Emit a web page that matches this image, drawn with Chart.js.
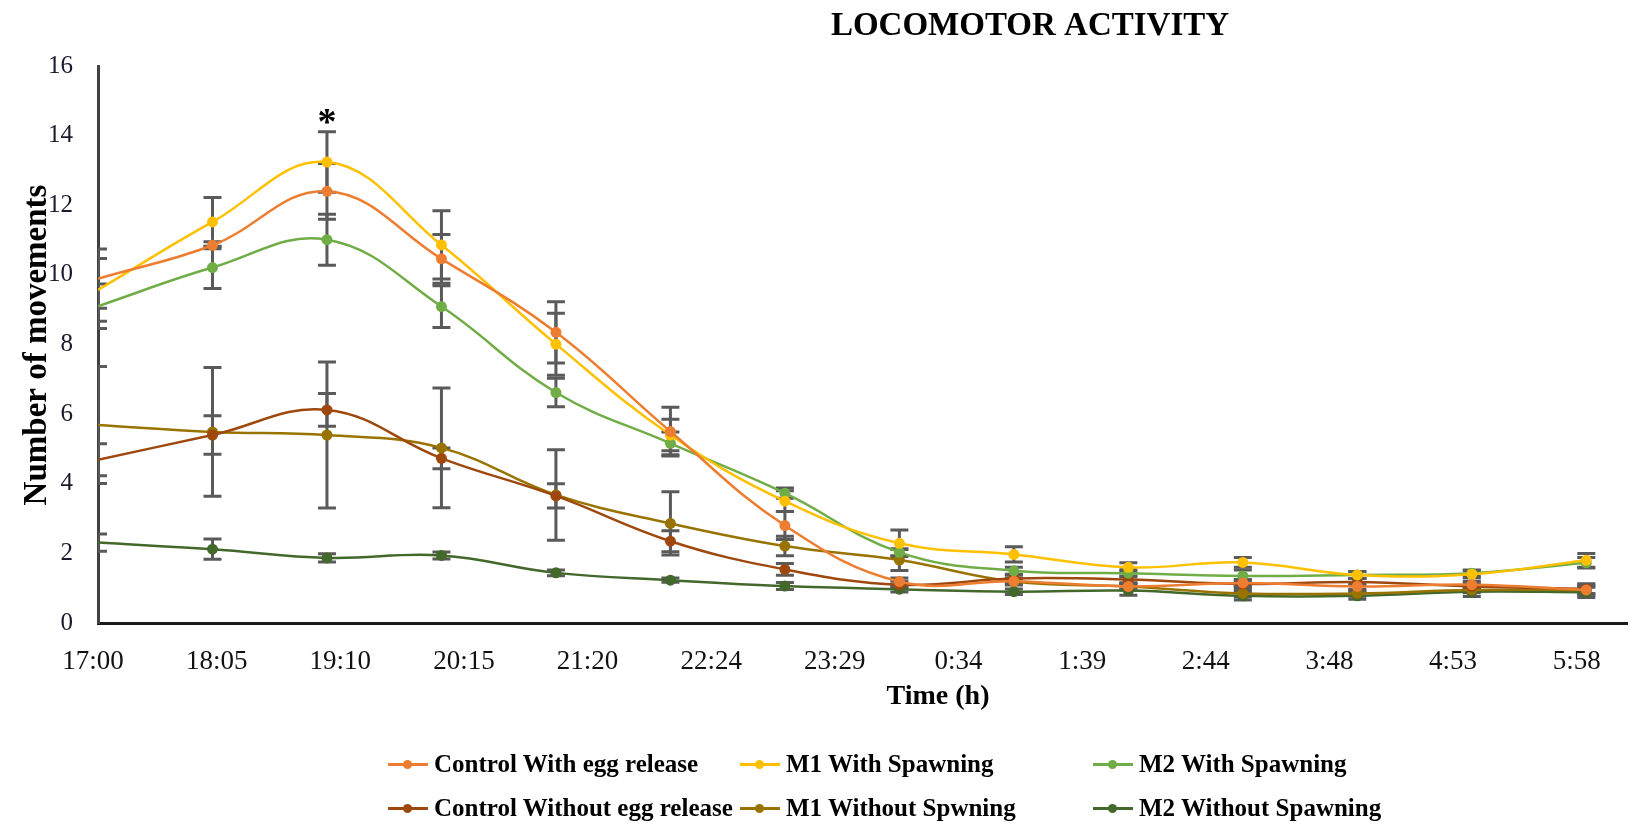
<!DOCTYPE html>
<html>
<head>
<meta charset="utf-8">
<title>Locomotor activity</title>
<script src="https://cdn.jsdelivr.net/npm/chart.js@4.4.1/dist/chart.umd.min.js"></script>
<style>
  html, body { margin: 0; padding: 0; background: #fff; }
  #wrap { position: relative; width: 1633px; height: 825px; }
  #legend { position: absolute; left: 0; top: 0; width: 100%; height: 100%; pointer-events: none;
            font-family: 'Liberation Serif', 'Times New Roman', serif; font-weight: bold; font-size: 25px; color: #000; }
  .item { position: absolute; display: flex; align-items: center; white-space: nowrap; transform: translateY(-50%); }
  .swatch { position: relative; width: 40px; height: 3px; margin-right: 6px; }
  .swatch i { position: absolute; left: 15px; top: -3px; width: 9px; height: 9px; border-radius: 50%; }
</style>
</head>
<body>
<div id="wrap">
  <canvas id="chart" width="1633" height="825"></canvas>
  <div id="legend"></div>
</div>
<script>
// hours after 17:00 at which the counts were taken
const sampleHours = [0, 1, 2, 3, 4, 5, 6, 7, 8, 9, 10, 11, 12, 13];
// x axis labels, one every 0.045 day (64.8 min), as Excel printed them
const tickLabels = ['17:00', '18:05', '19:10', '20:15', '21:20', '22:24', '23:29',
                    '0:34', '1:39', '2:44', '3:48', '4:53', '5:58'];
const tickStep = 1.08;

const seriesNames = ['Control With egg release', 'M1 With Spawning', 'M2 With Spawning',
                     'Control Without egg release', 'M1 Without Spwning', 'M2 Without Spawning'];
const seriesColors = ['#ED7D31', '#FFC000', '#70AD47', '#9E480E', '#997300', '#43682B'];

const ctrlWith       = [9.89, 10.85, 12.40, 10.46, 8.35, 5.50, 2.80, 1.19, 1.20, 1.05, 1.15, 1.05, 1.10, 0.95];
const ctrlWithErr    = [0.85, 0.10, 0.80, 0.70, 0.88, 0.70, 0.40, 0.10, 0.08, 0.08, 0.10, 0.08, 0.10, 0.15];
const m1With         = [9.57, 11.52, 13.24, 10.86, 8.01, 5.40, 3.50, 2.29, 1.97, 1.60, 1.74, 1.38, 1.40, 1.80];
const m1WithErr      = [0.90, 0.70, 0.87, 0.98, 0.89, 0.45, 0.30, 0.38, 0.22, 0.13, 0.14, 0.10, 0.10, 0.20];
const m2With         = [9.10, 10.21, 11.01, 9.09, 6.62, 5.16, 3.73, 2.03, 1.50, 1.43, 1.35, 1.38, 1.43, 1.73];
const m2WithErr      = [0.64, 0.60, 0.73, 0.60, 0.41, 0.33, 0.15, 0.10, 0.10, 0.10, 0.17, 0.10, 0.09, 0.15];
const ctrlWithout    = [4.69, 5.40, 6.12, 4.73, 3.65, 2.35, 1.54, 1.10, 1.28, 1.25, 1.12, 1.18, 1.05, 0.98];
const ctrlWithoutErr = [0.46, 0.55, 0.47, 0.30, 0.35, 0.30, 0.17, 0.10, 0.10, 0.10, 0.10, 0.10, 0.10, 0.15];
const m1Without      = [5.69, 5.49, 5.40, 5.03, 3.68, 2.86, 2.21, 1.81, 1.19, 1.05, 0.85, 0.85, 0.95, 0.95];
const m1WithoutErr   = [1.68, 1.85, 2.10, 1.72, 1.30, 0.91, 0.28, 0.30, 0.10, 0.10, 0.10, 0.08, 0.08, 0.10];
const m2Without      = [2.31, 2.12, 1.87, 1.94, 1.44, 1.23, 1.06, 0.97, 0.90, 0.93, 0.78, 0.78, 0.90, 0.88];
const m2WithoutErr   = [0.25, 0.29, 0.12, 0.10, 0.08, 0.06, 0.10, 0.08, 0.08, 0.13, 0.12, 0.10, 0.14, 0.15];

const seriesValues = [ctrlWith, m1With, m2With, ctrlWithout, m1Without, m2Without];
const seriesErrors = [ctrlWithErr, m1WithErr, m2WithErr, ctrlWithoutErr, m1WithoutErr, m2WithoutErr];

const chartTitle = 'LOCOMOTOR ACTIVITY';
const xTitle = 'Time (h)';
const yTitle = 'Number of movements';
const starHour = 2;  // significance mark above 19:00

const serif = "'Liberation Serif', 'Times New Roman', serif";

const errorBars = {
  id: 'errorBars',
  beforeDatasetsDraw(chart) {
    const { ctx, chartArea: a, scales: { x, y } } = chart;
    ctx.save();
    ctx.beginPath();
    ctx.rect(a.left, a.top, a.right - a.left, a.bottom - a.top);
    ctx.clip();
    ctx.strokeStyle = '#5a5a5a';
    ctx.lineWidth = 3;
    seriesValues.forEach((vals, s) => {
      vals.forEach((v, i) => {
        const e = seriesErrors[s][i];
        const px = x.getPixelForValue(sampleHours[i]);
        const top = y.getPixelForValue(v + e);
        const bot = y.getPixelForValue(v - e);
        ctx.beginPath();
        ctx.moveTo(px, top); ctx.lineTo(px, bot);
        ctx.moveTo(px - 9, top); ctx.lineTo(px + 9, top);
        ctx.moveTo(px - 9, bot); ctx.lineTo(px + 9, bot);
        ctx.stroke();
      });
    });
    ctx.restore();
  }
};

const titles = {
  id: 'titles',
  afterDraw(chart) {
    const { ctx, scales: { x, y } } = chart;
    ctx.save();
    ctx.fillStyle = '#000';
    ctx.textAlign = 'center';
    ctx.textBaseline = 'alphabetic';
    ctx.font = 'bold 33px ' + serif;
    ctx.fillText(chartTitle, 1030, 35);
    ctx.font = 'bold 28px ' + serif;
    ctx.fillText(xTitle, 938, 704);
    // asterisk over the tallest error bar at 19:00
    const top = Math.max(...seriesValues.map((v, s) => v[starHour] + seriesErrors[s][starHour]));
    ctx.font = 'bold 38px ' + serif;
    ctx.fillText('*', x.getPixelForValue(sampleHours[starHour]), y.getPixelForValue(top) + 2);
    ctx.translate(46, 345);
    ctx.rotate(-Math.PI / 2);
    ctx.font = 'bold 33px ' + serif;
    ctx.fillText(yTitle, 0, 0);
    ctx.restore();
  }
};

const datasets = seriesValues.map((vals, s) => ({
  label: seriesNames[s],
  data: vals.map((v, i) => ({ x: sampleHours[i], y: v })),
  borderColor: seriesColors[s],
  backgroundColor: seriesColors[s],
  borderWidth: 2.5,
  pointRadius: vals.map((v, i) => i === 0 ? 0 : 5.5),
  pointBorderWidth: 0,
  tension: 0.4,
  fill: false,
}));

new Chart(document.getElementById('chart'), {
  type: 'line',
  data: { datasets },
  options: {
    responsive: false,
    animation: false,
    devicePixelRatio: 1,
    layout: { padding: { left: 0, right: 0, top: 66, bottom: 0 } },
    plugins: { legend: { display: false }, title: { display: false }, tooltip: { enabled: false } },
    scales: {
      x: {
        type: 'linear',
        min: 0,
        max: 13.36,
        grid: { display: false },
        border: { display: true, color: '#1a1a1a', width: 3 },
        afterBuildTicks: (scale) => {
          scale.ticks = tickLabels.map((t, i) => ({ value: i * tickStep }));
        },
        afterFit: (scale) => { scale.height = 202; },
        ticks: {
          autoSkip: false,
          maxRotation: 0,
          padding: 15,
          labelOffset: -5,
          color: '#111',
          font: { family: serif, size: 27 },
          callback: (v, i) => tickLabels[i],
        },
      },
      y: {
        min: 0,
        max: 16,
        grid: { display: false },
        border: { display: true, color: '#404040', width: 3 },
        afterFit: (scale) => { scale.width = 98; },
        ticks: {
          stepSize: 2,
          padding: 17,
          color: '#1a1a2e',
          font: { family: serif, size: 25 },
        },
      },
    },
  },
  plugins: [errorBars, titles],
});

// legend: 3 columns x 2 rows below the chart
const legendCols = [388, 740, 1093];
const legendRows = [764, 808];
const legend = document.getElementById('legend');
seriesNames.forEach((name, s) => {
  const item = document.createElement('div');
  item.className = 'item';
  item.style.left = legendCols[s % 3] + 'px';
  item.style.top = legendRows[Math.floor(s / 3)] + 'px';
  item.innerHTML = `<span class="swatch" style="background:${seriesColors[s]}"><i style="background:${seriesColors[s]}"></i></span>${name}`;
  legend.appendChild(item);
});
</script>
</body>
</html>
